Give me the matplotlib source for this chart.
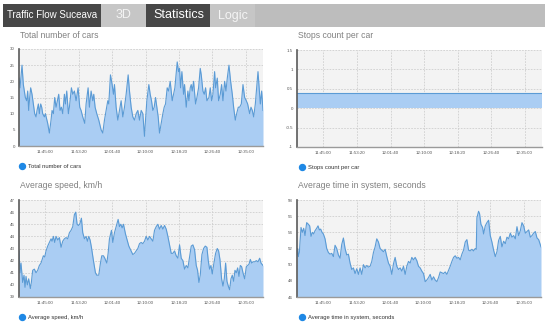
import matplotlib
matplotlib.use("Agg")
import matplotlib.pyplot as plt
from matplotlib.patches import Rectangle
from matplotlib.lines import Line2D

plt.rcParams['font.family'] = ['Liberation Sans', 'DejaVu Sans']

W, H = 550, 324

# time axis: seconds after 11:38:25
start_clock = "11:38:25"
x_end = 3655
tick_labels = ["11:45:00", "11:53:20", "12:01:40", "12:10:00", "12:18:20", "12:26:40", "12:35:00"]

cars_t = [0, 15, 45, 65, 95, 115, 130, 145, 160, 175,
          195, 215, 235, 255, 270, 290, 305, 325, 340, 355,
          380, 395, 430, 455, 480, 495, 515, 535, 555, 575,
          595, 615, 635, 655, 680, 695, 715, 740, 755, 785,
          805, 830, 855, 885, 910, 930, 955, 985, 1005, 1035,
          1055, 1080, 1105, 1120, 1140, 1165, 1195, 1230, 1255, 1280,
          1305, 1330, 1345, 1370, 1395, 1415, 1430, 1455, 1480, 1505,
          1530, 1555, 1580, 1605, 1635, 1655, 1680, 1705, 1730, 1755,
          1780, 1805, 1830, 1855, 1880, 1895, 1915, 1945, 1965, 1985,
          2005, 2025, 2045, 2065, 2085, 2105, 2130, 2155, 2175, 2195,
          2220, 2240, 2265, 2295, 2315, 2335, 2370, 2390, 2405, 2420,
          2440, 2465, 2480, 2505, 2530, 2545, 2565, 2580, 2595, 2615,
          2645, 2665, 2690, 2715, 2730, 2755, 2775, 2795, 2815, 2845,
          2865, 2885, 2905, 2930, 2945, 2970, 2990, 3015, 3035, 3055,
          3080, 3100, 3120, 3145, 3170, 3195, 3215, 3240, 3260, 3285,
          3305, 3330, 3355, 3380, 3405, 3425, 3455, 3475, 3495, 3515,
          3540, 3560, 3580, 3600, 3615, 3635, 3655]
cars = [21, 18, 25, 19, 15, 14, 17, 11, 15, 18,
        16, 13, 10, 9, 11, 13, 10, 13, 12, 10,
        9, 10, 7, 4, 8, 11, 10, 15, 12, 14,
        16, 11, 12, 10, 16, 13, 17, 10, 12, 18,
        16, 17, 14, 18, 12, 11, 9, 7, 13, 18,
        12, 17, 14, 16, 12, 10, 8, 5, 4, 8,
        11, 14, 13, 22, 19, 16, 19, 12, 8, 11,
        14, 9, 12, 16, 22, 17, 12, 9, 8, 10,
        11, 8, 11, 10, 3, 8, 14, 19, 16, 14,
        11, 12, 15, 12, 9, 4, 7, 10, 12, 13,
        18, 17, 20, 14, 16, 18, 26, 23, 24, 18,
        23, 16, 19, 12, 17, 14, 18, 19, 17, 20,
        13, 15, 18, 24, 22, 17, 16, 18, 14, 15,
        18, 14, 16, 23, 18, 21, 14, 16, 19, 14,
        20, 17, 21, 25, 20, 16, 12, 8, 10, 12,
        12, 13, 19, 15, 14, 13, 10, 12, 11, 9,
        13, 18, 23, 17, 13, 17, 11]

stops_t = [0, 3655]
stops = [0.4, 0.4]

speed_t = [0, 15, 30, 55, 75, 90, 105, 125, 145, 170,
           185, 205, 230, 255, 280, 305, 330, 365, 385, 405,
           430, 455, 480, 495, 515, 535, 555, 580, 605, 630,
           655, 680, 705, 730, 755, 780, 805, 830, 850, 870,
           890, 910, 935, 955, 980, 1005, 1025, 1045, 1065, 1085,
           1115, 1145, 1165, 1195, 1220, 1240, 1265, 1285, 1315, 1335,
           1355, 1385, 1405, 1430, 1455, 1485, 1505, 1525, 1545, 1565,
           1595, 1615, 1645, 1680, 1705, 1730, 1755, 1780, 1805, 1830,
           1855, 1880, 1905, 1930, 1955, 1980, 2005, 2030, 2055, 2080,
           2105, 2130, 2155, 2180, 2205, 2230, 2255, 2280, 2305, 2330,
           2355, 2380, 2405, 2430, 2455, 2480, 2505, 2530, 2555, 2580,
           2605, 2630, 2655, 2675, 2695, 2715, 2740, 2765, 2790, 2815,
           2835, 2855, 2875, 2895, 2920, 2945, 2970, 2990, 3010, 3035,
           3055, 3075, 3095, 3115, 3135, 3155, 3175, 3195, 3215, 3235,
           3255, 3275, 3295, 3315, 3335, 3355, 3380, 3405, 3425, 3445,
           3465, 3485, 3505, 3530, 3555, 3580, 3605, 3625, 3655]
speed = [42.8, 41.0, 41.8, 40.2, 40.8, 39.8, 40.7, 40.0, 40.5, 39.7,
         40.2, 41.2, 41.3, 41.0, 41.2, 41.6, 41.8, 42.4, 42.3, 42.8,
         43.2, 43.5, 43.8, 43.6, 44.0, 43.5, 44.0, 43.7, 43.9, 43.1,
         43.6, 43.8, 43.9, 43.8, 44.3, 44.5, 44.8, 45.8, 46.0, 45.0,
         44.9, 45.0, 45.5, 44.3, 43.8, 44.0, 43.6, 44.0, 43.7, 43.1,
         42.0, 41.0, 40.8, 40.8, 41.8, 42.4, 42.4, 42.2, 41.8, 42.6,
         43.8, 44.5, 43.5, 44.3, 44.8, 45.4, 44.8, 45.0, 44.7, 45.0,
         44.2, 43.8, 43.2, 42.8, 42.5, 42.6, 42.8, 43.0, 43.4, 43.5,
         43.4, 43.6, 44.0, 43.7, 44.0, 43.8, 43.6, 44.5, 44.8, 45.0,
         44.6, 44.9, 44.6, 44.9, 44.6, 44.0, 43.3, 42.6, 42.6, 42.8,
         42.4, 42.2, 43.3, 42.2, 42.0, 41.3, 41.6, 41.4, 42.3, 43.2,
         43.3, 42.9, 41.6, 41.2, 40.2, 40.8, 42.5, 43.0, 43.2, 43.1,
         42.0, 41.3, 41.6, 40.9, 41.8, 42.6, 43.0, 42.8, 42.1, 40.5,
         39.9, 40.5, 41.8, 40.3, 39.9, 39.6, 40.5, 40.8, 40.3, 41.2,
         41.0, 41.4, 40.7, 41.6, 41.5, 41.0, 40.5, 41.5, 41.6, 41.7,
         42.1, 41.8, 41.9, 41.9, 42.0, 41.9, 42.2, 41.8, 41.6]

systime_t = [0, 10, 20, 35, 60, 80, 100, 120, 145, 170,
             190, 210, 230, 250, 270, 295, 315, 335, 355, 375,
             395, 420, 445, 470, 495, 520, 545, 570, 595, 620,
             645, 670, 695, 720, 745, 770, 795, 820, 845, 870,
             895, 920, 945, 970, 995, 1020, 1045, 1070, 1095, 1120,
             1145, 1170, 1195, 1220, 1245, 1270, 1295, 1320, 1345, 1370,
             1395, 1420, 1445, 1470, 1495, 1520, 1545, 1570, 1595, 1620,
             1645, 1670, 1695, 1720, 1745, 1770, 1795, 1820, 1845, 1870,
             1895, 1920, 1945, 1970, 1995, 2020, 2045, 2070, 2095, 2120,
             2145, 2170, 2195, 2220, 2245, 2270, 2295, 2320, 2345, 2370,
             2395, 2420, 2445, 2470, 2495, 2520, 2545, 2570, 2595, 2620,
             2645, 2670, 2685, 2695, 2720, 2735, 2755, 2780, 2795, 2820,
             2845, 2870, 2895, 2920, 2945, 2970, 2995, 3020, 3045, 3070,
             3095, 3120, 3145, 3170, 3195, 3220, 3245, 3270, 3295, 3320,
             3345, 3370, 3395, 3420, 3445, 3470, 3495, 3520, 3545, 3570,
             3595, 3620, 3655]
systime = [51.2, 52.0, 51.0, 51.5, 54.6, 54.0, 54.5, 53.6, 55.2, 55.0,
           54.8, 53.5, 54.0, 53.8, 54.2, 54.5, 54.8, 54.3, 54.4, 54.0,
           53.8, 53.2, 52.0, 51.5, 51.3, 51.4, 51.0, 52.4, 52.0, 51.2,
           50.8, 52.5, 53.3, 52.0, 51.2, 51.3, 50.2, 49.4, 49.6, 48.9,
           49.5, 48.8, 49.6, 48.8, 50.0, 49.6, 49.9, 49.7, 49.8, 50.4,
           51.5, 52.2, 53.2, 52.8, 52.0, 51.8, 51.6, 51.9, 51.0, 50.2,
           49.8, 48.8, 50.1, 50.9, 49.8, 49.4, 49.6, 49.2, 49.8, 48.8,
           49.8, 50.4, 50.2, 50.9, 50.6, 50.9, 50.5, 49.8, 49.6, 49.2,
           48.9, 47.9, 48.1, 48.4, 48.8, 48.1, 48.5, 48.1, 47.9, 48.4,
           49.1, 49.0, 48.9, 49.1, 48.8, 49.3, 49.8, 50.4, 50.9, 51.1,
           50.8, 50.9, 50.6, 51.3, 51.8, 52.8, 53.1, 51.8, 51.7, 51.9,
           51.7, 52.0, 51.9, 55.8, 56.6, 56.3, 55.0, 54.6, 53.8, 54.8,
           55.2, 55.5, 53.6, 52.8, 51.8, 51.0, 51.6, 53.0, 53.5, 52.2,
           52.9, 52.6, 53.4, 53.2, 53.9, 53.4, 53.6, 53.2, 54.7, 53.6,
           54.2, 55.2, 54.8, 53.9, 54.1, 54.3, 53.4, 53.6, 53.9, 54.1,
           53.3, 53.1, 52.2]


def clock_sec(c):
    h, m, s = map(int, c.split(':'))
    return h * 3600 + m * 60 + s


tick_pos = [clock_sec(c) - clock_sec(start_clock) for c in tick_labels]

fig = plt.figure(figsize=(W / 100, H / 100), dpi=100)
fig.patch.set_facecolor('white')


def fx(x):
    return x / W


def fy(y):
    return 1 - y / H


# header bar
def hbox(l, r, color):
    fig.add_artist(Rectangle((fx(l), fy(27)), (r - l) / W, 23 / H,
                             transform=fig.transFigure, color=color, lw=0))


hbox(3, 545, '#bdbdbd')
hbox(3, 101, '#474747')
hbox(101, 146, '#c6c6c6')
hbox(146, 210, '#474747')
hbox(210, 255, '#c6c6c6')
fig.text(fx(7), fy(15.5), 'Traffic Flow Suceava', color='white', fontsize=7, va='center')
fig.text(fx(124), fy(15.5), '3D', color='#f4f4f4', fontsize=9, va='center', ha='center')
fig.text(fx(179), fy(15.5), 'Statistics', color='white', fontsize=9, va='center', ha='center')
fig.text(fx(233), fy(15.5), 'Logic', color='#f4f4f4', fontsize=9, va='center', ha='center')

fill_c = '#aacdf3'
line_c = '#5b9bd5'
dot_c = '#1e88e5'

panels = [
    ('Total number of cars', cars_t, cars, (0, 30), [0, 5, 10, 15, 20, 25, 30], 0,
     (19, 49, 263, 146), (20, 35), (22, 166)),
    ('Stops count per car', stops_t, stops, (-1, 1.5), [-1, -0.5, 0, 0.5, 1, 1.5], 0,
     (297, 50, 542, 147), (298, 35), (302, 167)),
    ('Average speed, km/h', speed_t, speed, (39, 47), [39, 40, 41, 42, 43, 44, 45, 46, 47], 39,
     (19, 200, 263, 297), (20, 186), (22, 317)),
    ('Average time in system, seconds', systime_t, systime, (46, 58), [46, 48, 50, 52, 54, 56, 58], 46,
     (297, 200, 541, 297), (298, 186), (302, 317)),
]

for title, t, v, ylim, yticks, base, (l, tp, r, b), (tx, ty), (lx, ly) in panels:
    ax = fig.add_axes([fx(l), fy(b), (r - l) / W, (b - tp) / H])
    ax.set_facecolor('#f3f3f3')
    ax.fill_between(t, v, base, color=fill_c, lw=0)
    ax.plot(t, v, color=line_c, lw=0.8)
    ax.set_xlim(0, x_end)
    ax.set_ylim(*ylim)
    ax.set_yticks(yticks)
    ax.set_yticklabels([f'{y:g}' for y in yticks])
    ax.set_xticks(tick_pos)
    ax.set_xticklabels(tick_labels)
    ax.tick_params(length=0, labelsize=3.2, colors='#555555', pad=3)
    ax.grid(True, color='#cfcfcf', linestyle=(0, (2, 1.5)), lw=0.6)
    ax.set_axisbelow(True)
    for s in ('top', 'right'):
        ax.spines[s].set_visible(False)
    ax.spines['left'].set_color('#5a5a5a')
    ax.spines['left'].set_linewidth(1.2)
    ax.spines['bottom'].set_color('#9a9a9a')
    ax.spines['bottom'].set_linewidth(1.0)

    fig.text(fx(tx), fy(ty), title, color='#808080', fontsize=6.2, va='center')
    fig.add_artist(Line2D([fx(lx)], [fy(ly)], marker='o', ms=4.3, color=dot_c,
                          transform=fig.transFigure))
    fig.text(fx(lx + 6), fy(ly), title, color='#333333', fontsize=4.2, va='center')

fig.savefig('out.png', dpi=100)
